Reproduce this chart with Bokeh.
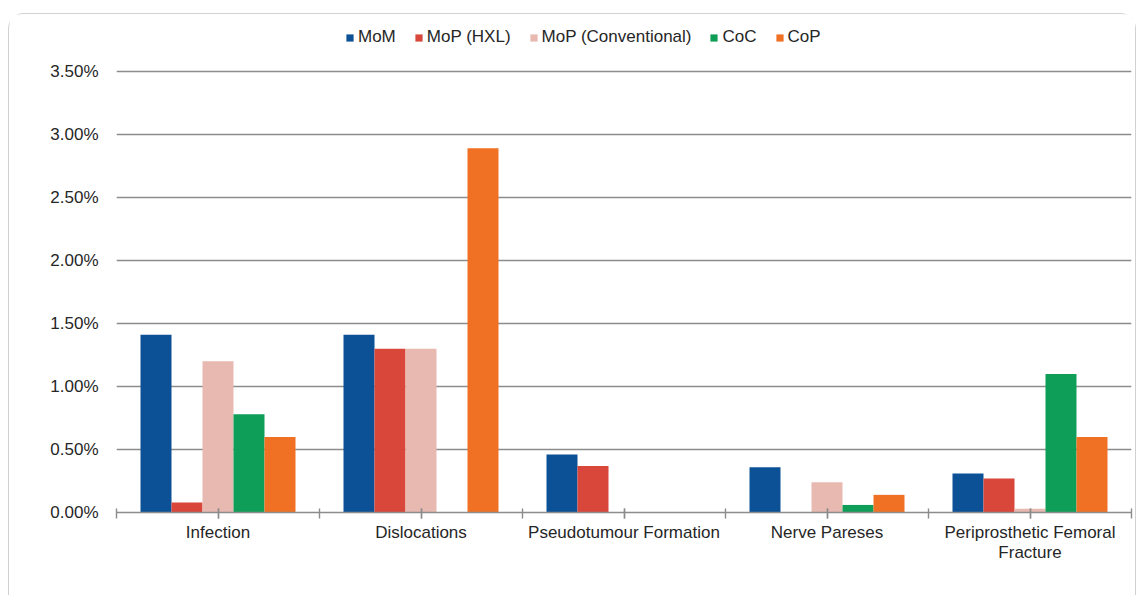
from bokeh.plotting import figure
from bokeh.models import (ColumnDataSource, Range1d, FixedTicker, PrintfTickFormatter,
                          Legend, LegendItem)
from bokeh.transform import dodge
from bokeh.embed import file_html
from bokeh.resources import INLINE

# Complication rates (%) by bearing surface
categories = ["Infection", "Dislocations", "Pseudotumour Formation", "Nerve Pareses",
              "Periprosthetic Femoral\nFracture"]
series_names = ["MoM", "MoP (HXL)", "MoP (Conventional)", "CoC", "CoP"]
mom = [1.41, 1.41, 0.46, 0.36, 0.31]
mop_hxl = [0.08, 1.30, 0.37, 0.0, 0.27]
mop_conventional = [1.20, 1.30, 0.0, 0.24, 0.03]
coc = [0.78, 0.0, 0.0, 0.06, 1.10]
cop = [0.60, 2.89, 0.0, 0.14, 0.60]
y_ticks = [0.0, 0.5, 1.0, 1.5, 2.0, 2.5, 3.0, 3.5]

colors = ["#0c5196", "#d9473a", "#e8b9b1", "#0f9e58", "#f07124"]
FONT = "Liberation Sans"
FONT_SIZE = "17px"
TEXT_COLOR = "#262626"

centers = [i + 0.5 for i in range(len(categories))]
bounds = [i * 0.5 for i in range(2 * len(categories) + 1)]
source = ColumnDataSource(dict(x=centers, mom=mom, mop_hxl=mop_hxl,
                               mop_conventional=mop_conventional, coc=coc, cop=cop))

W, H = 1128, 582
frame_top, frame_bottom = 0, 498
y_end = 3.5 * (frame_bottom - frame_top) / 441.0

p = figure(width=W, height=H, output_backend="svg", toolbar_location=None,
           x_range=Range1d(0, len(categories)), y_range=Range1d(0, y_end),
           min_border_left=107, min_border_right=6, min_border_top=0,
           min_border_bottom=H - frame_bottom)
p.outline_line_color = None
p.styles = {"margin-left": "8px", "margin-top": "13px",
            "border": "1px solid #d2d2d2", "border-bottom": "none",
            "border-radius": "16px 16px 0 0", "background": "white"}

bw = 31.0 / 203.0
cols = ["mom", "mop_hxl", "mop_conventional", "coc", "cop"]
renderers = []
for j, (col, c) in enumerate(zip(cols, colors)):
    r = p.vbar(x=dodge("x", (j - 2) * bw, range=p.x_range), top=col, bottom=0,
               width=bw, source=source, fill_color=c, line_color=None)
    renderers.append(r)

# y axis: percentage labels, horizontal gridlines only
p.yaxis.ticker = FixedTicker(ticks=y_ticks)
p.yaxis.formatter = PrintfTickFormatter(format="%.2f%%")
p.yaxis.axis_line_color = None
p.yaxis.major_tick_line_color = None
p.yaxis.minor_tick_line_color = None
p.yaxis.major_label_standoff = 12
p.yaxis.major_label_text_font = FONT
p.yaxis.major_label_text_font_size = FONT_SIZE
p.yaxis.major_label_text_color = TEXT_COLOR
p.ygrid.ticker = FixedTicker(ticks=y_ticks[1:])
p.ygrid.grid_line_color = "#8c8c8c"
p.ygrid.grid_line_width = 1.4
p.xgrid.grid_line_color = None

# x axis: ticks at category boundaries and centres, labels at centres
p.xaxis.ticker = FixedTicker(ticks=centers, minor_ticks=bounds)
p.xaxis.major_label_overrides = {c: name for c, name in zip(centers, categories)}
p.xaxis.axis_line_color = "#8c8c8c"
p.xaxis.axis_line_width = 1.4
p.xaxis.major_tick_line_color = "#8c8c8c"
p.xaxis.minor_tick_line_color = "#8c8c8c"
p.xaxis.major_tick_line_width = 1.4
p.xaxis.minor_tick_line_width = 1.4
p.xaxis.major_tick_in = 4
p.xaxis.major_tick_out = 6
p.xaxis.minor_tick_in = 4
p.xaxis.minor_tick_out = 6
p.xaxis.major_label_standoff = 4
p.xaxis.major_label_text_font = FONT
p.xaxis.major_label_text_font_size = FONT_SIZE
p.xaxis.major_label_text_color = TEXT_COLOR
p.xaxis.major_label_text_line_height = 1.1

legend = Legend(items=[LegendItem(label=n, renderers=[r]) for n, r in zip(series_names, renderers)],
                orientation="horizontal", location=(229, 465),
                glyph_width=9, glyph_height=9, label_standoff=4, spacing=18,
                padding=0, margin=0, label_height=20,
                label_text_font=FONT, label_text_font_size=FONT_SIZE,
                label_text_color=TEXT_COLOR,
                border_line_color=None, background_fill_alpha=0)
p.add_layout(legend, "center")

open("out.html", "w").write(file_html(p, INLINE))
